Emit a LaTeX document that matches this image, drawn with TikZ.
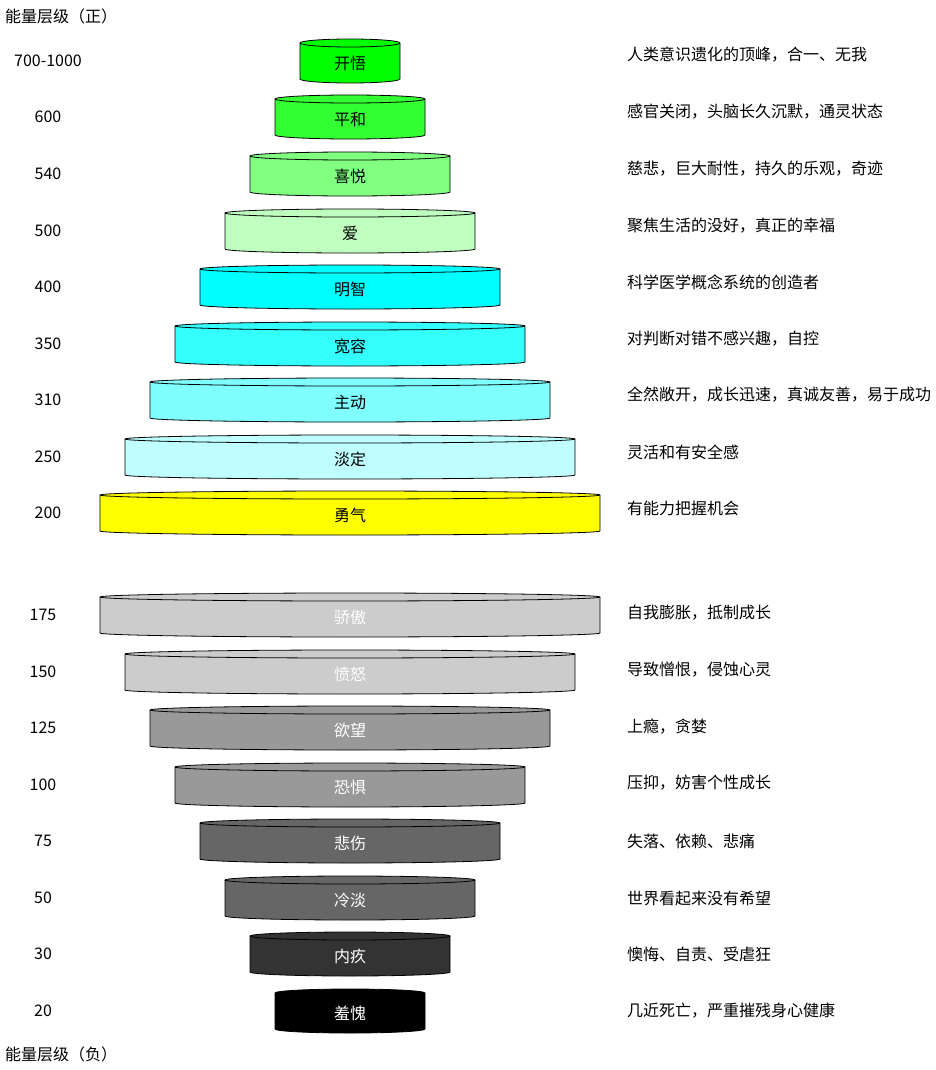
\documentclass[tikz,border=0pt]{standalone}
\usepackage{fontspec}
\setmainfont{Noto Sans CJK SC}
\definecolor{c1}{HTML}{00FF00}
\definecolor{c2}{HTML}{33FF33}
\definecolor{c3}{HTML}{80FF80}
\definecolor{c4}{HTML}{BFFFBF}
\definecolor{c5}{HTML}{00FFFF}
\definecolor{c6}{HTML}{33FFFF}
\definecolor{c7}{HTML}{80FFFF}
\definecolor{c8}{HTML}{BFFFFF}
\definecolor{c9}{HTML}{FFFF00}
\definecolor{c10}{HTML}{CCCCCC}
\definecolor{c11}{HTML}{999999}
\definecolor{c12}{HTML}{666666}
\definecolor{c13}{HTML}{333333}
\definecolor{c14}{HTML}{000000}
\begin{document}
\begin{tikzpicture}[x=1pt,y=1pt,font=\fontsize{16}{19}\selectfont,
  lbl/.style={inner sep=0pt},
  dscstyle/.style={anchor=west,inner sep=0pt},
  cylline/.style={draw=black,line width=0.8pt}]
\useasboundingbox (0,0) rectangle (936,-1070);
\node[dscstyle] (titlepos) at (5,-16) {能量层级（正）};
\node[dscstyle] (titleneg) at (5,-1054) {能量层级（负）};
\foreach \cy/\hw/\fc/\tc/\lab/\nm/\nx/\dsc/\dy [count=\i] in {
 61/50/c1/black/开悟/700-1000/48/人类意识遗化的顶峰，合一、无我/6,
 117/75/c2/black/平和/600/48/感官关闭，头脑长久沉默，通灵状态/5,
 174/100/c3/black/喜悦/540/48/慈悲，巨大耐性，持久的乐观，奇迹/5,
 231/125/c4/black/爱/500/48/聚焦生活的没好，真正的幸福/5,
 287/150/c5/black/明智/400/48/科学医学概念系统的创造者/5,
 344/175/c6/black/宽容/350/48/对判断对错不感兴趣，自控/5,
 400/200/c7/black/主动/310/48/全然敞开，成长迅速，真诚友善，易于成功/5,
 457/225/c8/black/淡定/250/48/灵活和有安全感/5,
 513/250/c9/black/勇气/200/48/有能力把握机会/5,
 615/250/c10/white/骄傲/175/43/自我膨胀，抵制成长/2,
 672/225/c10/white/愤怒/150/43/导致憎恨，侵蚀心灵/2,
 728/200/c11/white/欲望/125/43/上瘾，贪婪/1,
 785/175/c11/white/恐惧/100/43/压抑，妨害个性成长/2,
 841/150/c12/white/悲伤/75/43/失落、依赖、悲痛/0,
 898/125/c12/white/冷淡/50/43/世界看起来没有希望/0,
 954/100/c13/white/内疚/30/43/懊悔、自责、受虐狂/0,
 1011/75/c14/white/羞愧/20/43/几近死亡，严重摧残身心健康/0}
{
 \fill[\fc,cylline] (350-\hw,-\cy+18) -- (350-\hw,-\cy-18)
   arc[start angle=180,end angle=360,x radius=\hw,y radius=4]
   -- (350+\hw,-\cy+18)
   arc[start angle=0,end angle=180,x radius=\hw,y radius=4] -- cycle;
 \draw[cylline] (350-\hw,-\cy+18) arc[start angle=180,end angle=360,x radius=\hw,y radius=4];
 \node[lbl,text=\tc] (lv\i) at (350,-\cy-2) {\lab};
 \node[lbl] (num\i) at (\nx,-\cy) {\nm};
 \node[dscstyle] (dsc\i) at (627,-\cy+\dy) {\dsc};
}
\end{tikzpicture}
\end{document}
